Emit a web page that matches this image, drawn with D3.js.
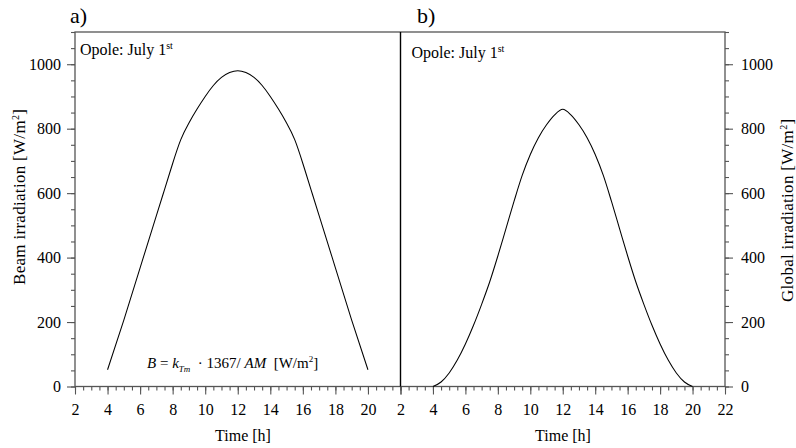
<!DOCTYPE html>
<html>
<head>
<meta charset="utf-8">
<script src="https://cdn.jsdelivr.net/npm/d3@7"></script>
<style>
  html, body { margin: 0; padding: 0; background: #fff; }
  svg { display: block; }
  svg text { font-family: "Liberation Serif", "Times New Roman", serif; }
</style>
</head>
<body>
<svg id="chart" width="796" height="448"></svg>
<script>
// Panel a): beam irradiation, Opole, July 1st
const beamHours  = [4, 5, 6, 7, 7.5, 8, 8.5, 9, 9.5, 10, 10.5, 11, 11.5, 12,
                    12.5, 13, 13.5, 14, 14.5, 15, 15.5, 16, 16.5, 17, 18, 19, 20];
const beamValues = [52, 206, 368, 530, 611, 692, 766, 818, 861, 900, 934, 959, 974, 980,
                    974, 959, 934, 900, 861, 818, 766, 692, 611, 530, 368, 206, 52];

// Panel b): global irradiation, Opole, July 1st
const globalHours  = [4, 4.5, 5, 5.5, 6, 6.5, 7, 7.5, 8, 8.5, 9, 9.5, 10, 10.5, 11, 11.5, 12,
                      12.5, 13, 13.5, 14, 14.5, 15, 15.5, 16, 16.5, 17, 17.5, 18, 18.5, 19, 19.5, 20];
const globalValues = [0, 14, 42, 82, 132, 190, 255, 325, 405, 490, 575, 655, 720, 772, 812, 843, 860,
                      843, 812, 772, 720, 655, 575, 490, 405, 325, 255, 190, 132, 82, 42, 14, 0];

const xTicks = [2, 4, 6, 8, 10, 12, 14, 16, 18, 20, 22];
const yTicks = [0, 200, 400, 600, 800, 1000];

const svg = d3.select("#chart");
const frameColor = "#555";
const serif = "Liberation Serif, Times New Roman, serif";

const xA = d3.scaleLinear().domain([2, 22]).range([75, 400.5]);
const xB = d3.scaleLinear().domain([2, 22]).range([400.5, 725]);
const y  = d3.scaleLinear().domain([0, 1100]).range([386.5, 32]);

const minorX = d3.range(2, 22.001, 0.5);
const minorY = d3.range(0, 1100.001, 50);

function styleAxis(g) {
  g.attr("font-family", serif).attr("font-size", 16);
  g.select(".domain").remove();
  g.selectAll(".tick line").attr("stroke", frameColor).attr("stroke-width", 1.1);
  g.selectAll(".tick text").attr("fill", "#000");
}

// bottom axes: minor ticks then labelled major ticks
[[xA, true], [xB, false]].forEach(([sx, left]) => {
  svg.append("g").attr("transform", `translate(0,${y(0)})`)
    .call(d3.axisBottom(sx).tickValues(minorX).tickSize(4).tickFormat(""))
    .call(styleAxis);
  svg.append("g").attr("transform", `translate(0,${y(0)})`)
    .call(d3.axisBottom(sx).tickValues(xTicks).tickSize(8).tickPadding(9)
      .tickFormat(d => (left && d === 22) ? "" : d3.format("d")(d)))
    .call(styleAxis);
});

// left y axis
svg.append("g").attr("transform", `translate(${xA(2)},0)`)
  .call(d3.axisLeft(y).tickValues(minorY).tickSize(4).tickFormat(""))
  .call(styleAxis);
svg.append("g").attr("transform", `translate(${xA(2)},0)`)
  .call(d3.axisLeft(y).tickValues(yTicks).tickSize(8).tickPadding(6).tickFormat(d3.format("d")))
  .call(styleAxis);

// right y axis
svg.append("g").attr("transform", `translate(${xB(22)},0)`)
  .call(d3.axisRight(y).tickValues(minorY).tickSize(4).tickFormat(""))
  .call(styleAxis);
svg.append("g").attr("transform", `translate(${xB(22)},0)`)
  .call(d3.axisRight(y).tickValues(yTicks).tickSize(8).tickPadding(8).tickFormat(d3.format("d")))
  .call(styleAxis);

// frame and panel divider
svg.append("rect")
  .attr("x", xA(2)).attr("y", y(1100))
  .attr("width", xB(22) - xA(2)).attr("height", y(0) - y(1100))
  .attr("fill", "none").attr("stroke", frameColor).attr("stroke-width", 1.3);
svg.append("line")
  .attr("x1", xB(2)).attr("x2", xB(2)).attr("y1", y(1100)).attr("y2", y(0))
  .attr("stroke", "#000").attr("stroke-width", 1.4);

// curves
const lineA = d3.line().x((d, i) => xA(beamHours[i])).y(d => y(d)).curve(d3.curveNatural);
const lineB = d3.line().x((d, i) => xB(globalHours[i])).y(d => y(d)).curve(d3.curveMonotoneX);
svg.append("path").attr("d", lineA(beamValues))
  .attr("fill", "none").attr("stroke", "#000").attr("stroke-width", 1.05);
svg.append("path").attr("d", lineB(globalValues))
  .attr("fill", "none").attr("stroke", "#000").attr("stroke-width", 1.05);

// panel letters
svg.append("text").attr("x", 70).attr("y", 23).attr("font-size", 22).text("a)");
svg.append("text").attr("x", 417).attr("y", 23).attr("font-size", 22).text("b)");

// location/date notes
function note(x, yy) {
  const t = svg.append("text").attr("x", x).attr("y", yy).attr("font-size", 16);
  t.append("tspan").text("Opole: July 1");
  t.append("tspan").attr("font-size", 10).attr("dy", -6).text("st");
}
note(80, 54.5);
note(411.5, 57.5);

// formula
const f = svg.append("text").attr("x", 147).attr("y", 367.5).attr("font-size", 15)
  .attr("xml:space", "preserve");
f.append("tspan").attr("font-style", "italic").text("B");
f.append("tspan").text(" = ");
f.append("tspan").attr("font-style", "italic").text("k");
f.append("tspan").attr("font-style", "italic").attr("font-size", 9).attr("dy", 4).text("Tm");
f.append("tspan").attr("dy", -4).text("  · 1367/ ");
f.append("tspan").attr("font-style", "italic").text("AM");
f.append("tspan").text("  [W/m");
f.append("tspan").attr("font-size", 9).attr("dy", -6).text("2");
f.append("tspan").attr("dy", 6).text("]");

// axis titles
svg.append("text").attr("x", 243).attr("y", 441).attr("font-size", 16)
  .attr("text-anchor", "middle").text("Time [h]");
svg.append("text").attr("x", 563).attr("y", 441).attr("font-size", 16)
  .attr("text-anchor", "middle").text("Time [h]");

function yTitle(x, yy, label) {
  const t = svg.append("text").attr("transform", `translate(${x},${yy}) rotate(-90)`)
    .attr("font-size", 17).attr("letter-spacing", 0.3);
  t.append("tspan").text(label + " [W/m");
  t.append("tspan").attr("font-size", 10).attr("dy", -6).text("2");
  t.append("tspan").attr("dy", 6).text("]");
}
yTitle(25, 285, "Beam irradiation");
yTitle(793, 302, "Global irradiation");
</script>
</body>
</html>
